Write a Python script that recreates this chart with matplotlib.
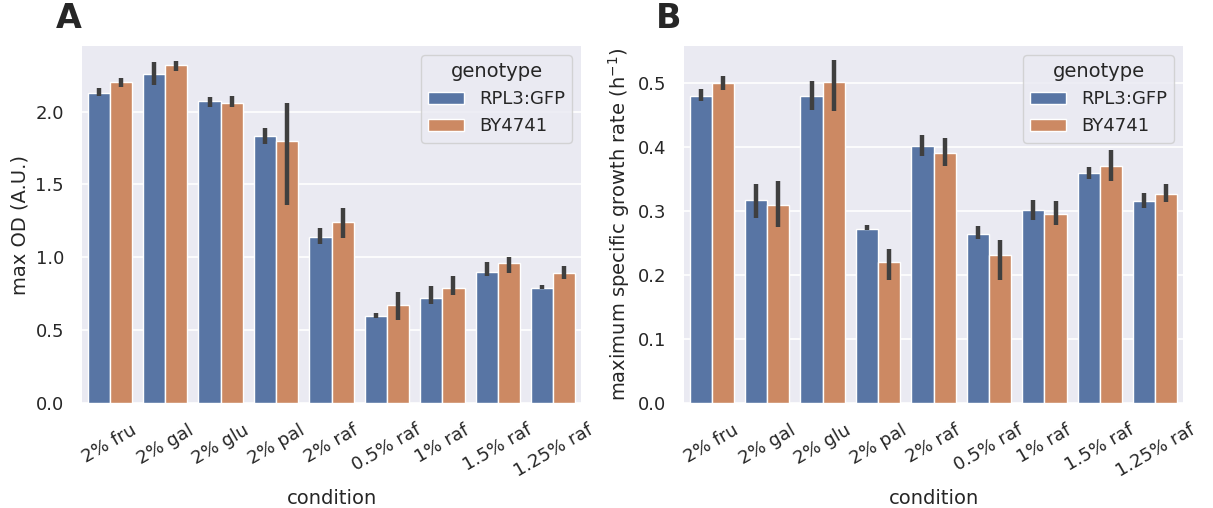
import matplotlib
matplotlib.use("Agg")
import matplotlib.pyplot as plt
import numpy as np

conditions = ["2% fru", "2% gal", "2% glu", "2% pal", "2% raf",
              "0.5% raf", "1% raf", "1.5% raf", "1.25% raf"]
genotypes = ["RPL3:GFP", "BY4741"]

# panel A: max OD (mean, ci low, ci high)
od_rpl3 = [2.13, 2.26, 2.07, 1.83, 1.14, 0.60, 0.72, 0.90, 0.79]
od_rpl3_lo = [2.11, 2.18, 2.03, 1.78, 1.09, 0.58, 0.68, 0.87, 0.78]
od_rpl3_hi = [2.16, 2.34, 2.10, 1.89, 1.20, 0.62, 0.80, 0.97, 0.81]
od_by = [2.20, 2.32, 2.06, 1.80, 1.24, 0.67, 0.79, 0.96, 0.89]
od_by_lo = [2.17, 2.28, 2.03, 1.36, 1.13, 0.57, 0.74, 0.89, 0.85]
od_by_hi = [2.23, 2.35, 2.11, 2.06, 1.34, 0.76, 0.87, 1.00, 0.94]

# panel B: maximum specific growth rate
gr_rpl3 = [0.481, 0.317, 0.481, 0.273, 0.402, 0.265, 0.302, 0.360, 0.316]
gr_rpl3_lo = [0.472, 0.290, 0.458, 0.270, 0.387, 0.256, 0.286, 0.350, 0.305]
gr_rpl3_hi = [0.492, 0.342, 0.504, 0.279, 0.419, 0.277, 0.318, 0.370, 0.328]
gr_by = [0.501, 0.310, 0.503, 0.221, 0.391, 0.232, 0.295, 0.371, 0.327]
gr_by_lo = [0.490, 0.275, 0.457, 0.193, 0.371, 0.193, 0.279, 0.348, 0.315]
gr_by_hi = [0.512, 0.347, 0.536, 0.241, 0.415, 0.255, 0.316, 0.396, 0.343]

colors = ["#5875a4", "#cc8963"]

plt.rcParams.update({
    "font.family": "DejaVu Sans",
    "axes.facecolor": "#EAEAF2",
    "axes.edgecolor": "white",
    "axes.grid": True,
    "grid.color": "white",
    "grid.linewidth": 1.2,
    "axes.axisbelow": True,
    "xtick.color": "#262626",
    "ytick.color": "#262626",
    "axes.labelcolor": "#262626",
    "text.color": "#262626",
    "xtick.major.size": 0,
    "ytick.major.size": 0,
    "xtick.major.pad": 13,
    "ytick.major.pad": 13,
    "font.size": 13,
})


def draw_panel(ax, series, ylabel, ylim, yticks):
    x = np.arange(len(conditions))
    w = 0.4
    for i, (mean, lo, hi) in enumerate(series):
        pos = x - 0.2 + i * w
        ax.bar(pos, mean, width=w, color=colors[i], edgecolor="white",
               linewidth=1.0, label=genotypes[i])
        ax.vlines(pos, lo, hi, color="#3f3f3f", linewidth=3.2)
    ax.set_xlim(-0.5, len(conditions) - 0.5)
    ax.set_ylim(*ylim)
    ax.set_yticks(yticks)
    ax.set_xticks(x)
    ax.set_xticklabels(conditions, rotation=30, fontsize=13)
    ax.tick_params(axis="y", labelsize=13)
    ax.grid(axis="x", visible=False)
    for s in ax.spines.values():
        s.set_visible(False)
    ax.set_xlabel("condition", fontsize=14, labelpad=6)
    ax.set_ylabel(ylabel, fontsize=14, labelpad=4)
    leg = ax.legend(title="genotype", loc="upper right", fontsize=13,
                    title_fontsize=14, frameon=True, borderaxespad=0.5)
    leg.get_frame().set_facecolor("#EAEAF2")
    leg.get_frame().set_edgecolor("#cccccc")


fig = plt.figure(figsize=(12.13, 5.08), dpi=100)
ax_a = fig.add_axes([0.0676, 0.2067, 0.4114, 0.7027])
ax_b = fig.add_axes([0.5639, 0.2067, 0.4114, 0.7027])

draw_panel(ax_a, [(od_rpl3, od_rpl3_lo, od_rpl3_hi), (od_by, od_by_lo, od_by_hi)],
           "max OD (A.U.)", (0, 2.45), [0.0, 0.5, 1.0, 1.5, 2.0])
draw_panel(ax_b, [(gr_rpl3, gr_rpl3_lo, gr_rpl3_hi), (gr_by, gr_by_lo, gr_by_hi)],
           "maximum specific growth rate (h$^{-1}$)", (0, 0.5586),
           [0.0, 0.1, 0.2, 0.3, 0.4, 0.5])

fig.text(0.046, 0.944, "A", fontsize=24, fontweight="bold")
fig.text(0.541, 0.944, "B", fontsize=24, fontweight="bold")

fig.savefig("out.png", dpi=100)
